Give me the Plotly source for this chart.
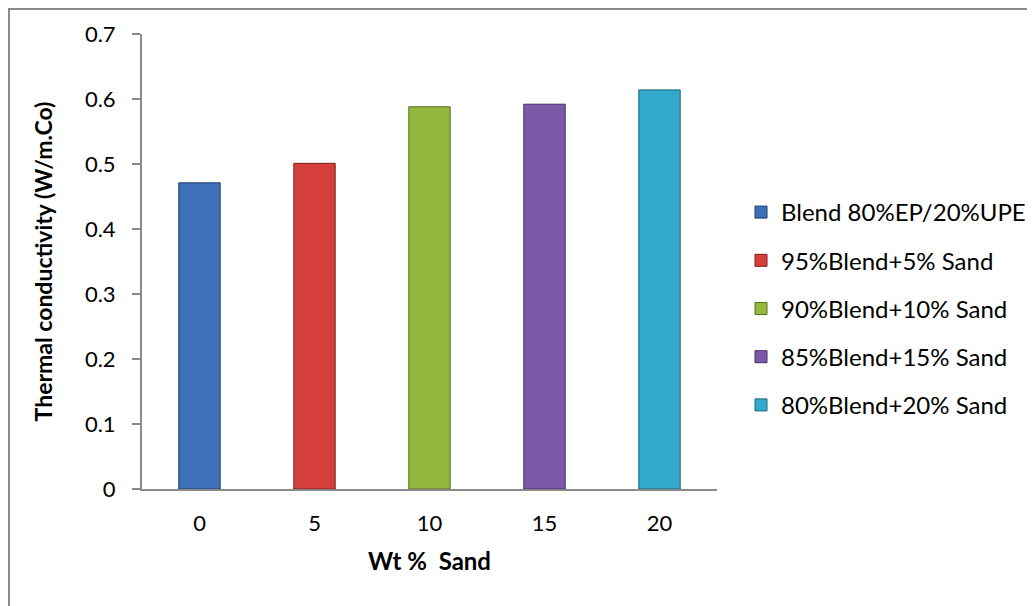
import plotly.graph_objects as go

categories = ["0", "5", "10", "15", "20"]
values = [0.471, 0.501, 0.588, 0.592, 0.614]
series_names = [
    "Blend 80%EP/20%UPE",
    "95%Blend+5% Sand",
    "90%Blend+10% Sand",
    "85%Blend+15% Sand",
    "80%Blend+20% Sand",
]
fill_colors = ["#3E70B8", "#D5403C", "#93B840", "#7C5AA8", "#33AACB"]
line_colors = ["#1F3F6E", "#7A1E1C", "#56701F", "#442D66", "#1A6478"]

FONT = "Lato"

fig = go.Figure()
for i, (cat, val, name) in enumerate(zip(categories, values, series_names)):
    fig.add_trace(go.Bar(
        x=[cat], y=[val], name=name,
        legendgroup=f"g{i}",
        width=0.36,
        marker=dict(color=fill_colors[i], line=dict(color=line_colors[i], width=1)),
    ))

W, H = 1035, 606
L, R, T, B = 134, 326, 26, 125
pw, ph = W - L - R, H - T - B

def px_to_paper(x, y):
    return (x - L) / pw, (H - B - y) / ph

x0, y0 = px_to_paper(1, 610)
x1, y1 = px_to_paper(1, 1)
x2, y2 = px_to_paper(1040, 1)

fig.update_layout(
    width=W, height=H,
    margin=dict(l=L, r=R, t=T, b=B),
    paper_bgcolor="white", plot_bgcolor="white",
    barmode="overlay",
    font=dict(family=FONT, size=23, color="black"),
    showlegend=True,
    legend=dict(
        xref="container", yref="container",
        x=733 / W, y=1 - 182 / H, xanchor="left", yanchor="top",
        font=dict(family=FONT, size=24, color="black"),
        tracegroupgap=14,
        bgcolor="rgba(0,0,0,0)",
    ),
    xaxis=dict(
        type="category", categoryorder="array", categoryarray=categories,
        showline=True, linecolor="#8A8A8A", linewidth=2,
        ticks="", showgrid=False, zeroline=False,
        ticklabelstandoff=14,
        tickfont=dict(family=FONT, size=22, color="black"),
        title=dict(text="<b>Wt %  Sand</b>", font=dict(family=FONT, size=24, color="black"), standoff=18),
    ),
    yaxis=dict(
        range=[0, 0.7], dtick=0.1, tick0=0,
        showline=True, linecolor="#8A8A8A", linewidth=2,
        ticks="outside", ticklen=8, tickcolor="#8A8A8A", tickwidth=1.5,
        showgrid=False, zeroline=False,
        ticklabelstandoff=12,
        tickfont=dict(family=FONT, size=22, color="black"),
        title=dict(text="<b>Thermal conductivity (W/m.Co)</b>", font=dict(family=FONT, size=23, color="black"), standoff=26),
    ),
    shapes=[
        dict(type="path", xref="paper", yref="paper",
             path=f"M{x0},{y0} L{x1},{y1} L{x2},{y2}",
             line=dict(color="#8A8A8A", width=2)),
    ],
)

fig.write_html("out.html")
